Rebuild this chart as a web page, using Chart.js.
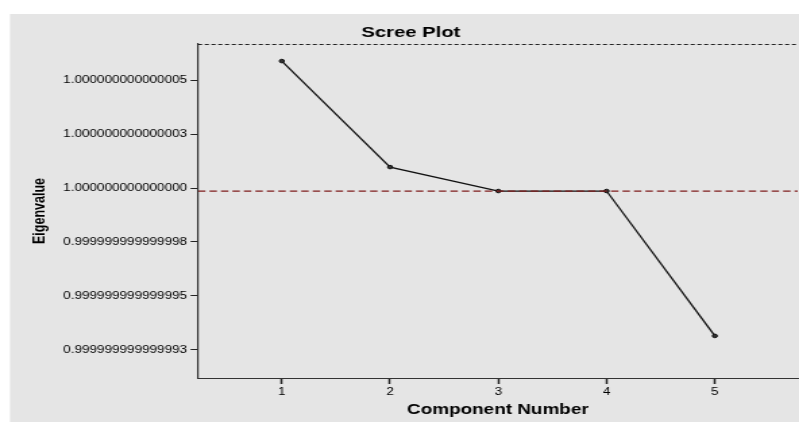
<!DOCTYPE html>
<html>
<head>
<meta charset="utf-8">
<script src="https://cdn.jsdelivr.net/npm/chart.js@4.4.1/dist/chart.umd.min.js"></script>
<style>
  html, body { margin: 0; padding: 0; background: #fff; overflow: hidden; }
  /* the reference picture is stretched sideways, so the canvas is too */
  #scree { display: block; transform: scaleX(1.3497); transform-origin: 0 0; }
</style>
</head>
<body>
<canvas id="scree" width="596" height="422"></canvas>
<script>
// eigenvalues are stored as (eigenvalue - 1) * 1e15, doubles cannot resolve them near 1
const componentNumbers = [1, 2, 3, 4, 5];
const eigenvalueExcessE15 = [5.88, 0.97, -0.14, -0.14, -6.85];
const referenceLineE15 = -0.14;

const yTickValues = [5, 2.5, 0, -2.5, -5, -7.5];
const yTickLabels = [
  "1.000000000000005",
  "1.000000000000003",
  "1.000000000000000",
  "0.999999999999998",
  "0.999999999999995",
  "0.999999999999993",
];
const xTickValues = [1, 2, 3, 4, 5];

const xMin = 0.226, xMax = 5.765;
const yMin = -8.8, yMax = 6.67;

const fontFamily = "'Liberation Sans', Arial, sans-serif";

const screeData = componentNumbers.map((c, i) => ({ x: c, y: eigenvalueExcessE15[i] }));
const refData = [
  { x: xMin, y: referenceLineE15 },
  { x: xMax, y: referenceLineE15 },
];

const backgroundPlugin = {
  id: "spssBackground",
  afterLayout(chart) {
    // move the title a little right, as in the reference
    if (chart.titleBlock) chart.titleBlock.left += 12.8;
  },
  beforeDraw(chart) {
    const ctx = chart.ctx;
    ctx.save();
    ctx.fillStyle = "#ffffff";
    ctx.fillRect(0, 0, chart.width, chart.height);
    ctx.fillStyle = "#e5e5e5";
    ctx.fillRect(7.4, 14, chart.width, chart.height);
    ctx.restore();
  },
  beforeDatasetsDraw(chart) {
    const { ctx, chartArea } = chart;
    ctx.save();
    ctx.strokeStyle = "#222222";
    ctx.lineWidth = 1.2;
    ctx.setLineDash([3, 2]);
    ctx.beginPath();
    ctx.moveTo(chartArea.left, chartArea.top + 0.5);
    ctx.lineTo(chartArea.right, chartArea.top + 0.5);
    ctx.stroke();
    ctx.restore();
  },
};

new Chart(document.getElementById("scree"), {
  type: "line",
  data: {
    datasets: [
      {
        label: "Reference",
        data: refData,
        borderColor: "#7f1d1d",
        borderWidth: 1.2,
        borderDash: [5.5, 3],
        pointRadius: 0,
        fill: false,
      },
      {
        label: "Eigenvalue",
        data: screeData,
        borderColor: "#111111",
        borderWidth: 1.3,
        pointRadius: 1.8,
        pointBackgroundColor: "#333333",
        pointBorderColor: "#111111",
        pointBorderWidth: 1,
        tension: 0,
        fill: false,
      },
    ],
  },
  options: {
    responsive: false,
    animation: false,
    devicePixelRatio: 1,
    layout: { padding: { top: 14, left: 0, right: 0, bottom: 0 } },
    plugins: {
      legend: { display: false },
      tooltip: { enabled: false },
      title: {
        display: true,
        text: "Scree Plot",
        color: "#000",
        font: { family: fontFamily, size: 15, weight: "bold" },
        padding: { top: 10, bottom: 2 },
      },
    },
    scales: {
      x: {
        type: "linear",
        min: xMin,
        max: xMax,
        afterFit(scale) { scale.height = 44; },
        afterBuildTicks(scale) { scale.ticks = xTickValues.map((v) => ({ value: v })); },
        ticks: {
          autoSkip: false,
          color: "#000",
          padding: 2.5,
          font: { family: fontFamily, size: 10 },
          callback: (v) => String(v),
        },
        grid: {
          drawOnChartArea: false,
          drawTicks: true,
          tickLength: 6,
          tickColor: "#222",
          tickWidth: 1.5,
        },
        border: { display: true, color: "#333", width: 1 },
        title: {
          display: true,
          text: "Component Number",
          color: "#000",
          font: { family: fontFamily, size: 14, weight: "bold" },
          padding: { top: 0, bottom: 3 },
        },
      },
      y: {
        type: "linear",
        min: yMin,
        max: yMax,
        afterFit(scale) { scale.width = 146.7; },
        afterBuildTicks(scale) { scale.ticks = yTickValues.map((v) => ({ value: v })); },
        ticks: {
          autoSkip: false,
          color: "#000",
          padding: 2.6,
          font: { family: fontFamily, size: 10 },
          callback: (v) => yTickLabels[yTickValues.indexOf(v)],
        },
        grid: {
          drawOnChartArea: false,
          drawTicks: true,
          tickLength: 5.5,
          tickColor: "#222",
          tickWidth: 1,
        },
        border: { display: true, color: "#333", width: 1.2 },
        title: {
          display: true,
          text: "Eigenvalue",
          color: "#000",
          font: { family: fontFamily, size: 12.5, weight: "bold" },
          padding: { top: 22.2, bottom: 0 },
        },
      },
    },
  },
  plugins: [backgroundPlugin],
});
</script>
</body>
</html>
